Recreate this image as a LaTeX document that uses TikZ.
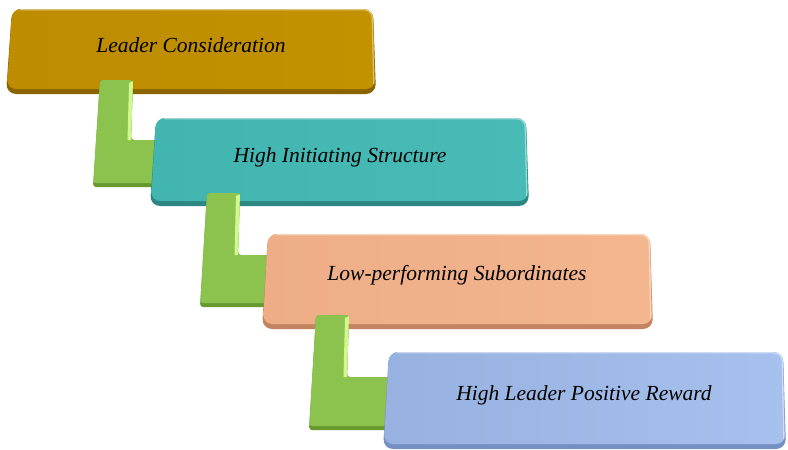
\documentclass[tikz,border=0pt]{standalone}
\usepackage{fontspec}
\setmainfont{Liberation Serif}
\definecolor{goldface}{HTML}{BD8C00}
\definecolor{goldlite}{HTML}{C29200}
\definecolor{golddark}{HTML}{8A6400}
\definecolor{tealface}{HTML}{42B5B0}
\definecolor{teallite}{HTML}{48BBB6}
\definecolor{tealdark}{HTML}{2C8783}
\definecolor{peachface}{HTML}{EEAD86}
\definecolor{peachlite}{HTML}{F3B68F}
\definecolor{peachdark}{HTML}{C48460}
\definecolor{blueface}{HTML}{97B1E0}
\definecolor{bluelite}{HTML}{A6C1EE}
\definecolor{bluedark}{HTML}{7590C2}
\definecolor{leaf}{HTML}{8BC34E}
\definecolor{leafdark}{HTML}{67992F}
\definecolor{leaflite}{HTML}{D2F78E}
\tikzset{
  label text/.style={font=\fontsize{21.5}{24}\selectfont\itshape, text=black},
}
% bevelled step box: left x, top y, right x, bottom y, face, light, dark
\newcommand\stepslab[7]{%
  \fill[#7, rounded corners=10pt] (#1+6,#2) -- (#3-3,#2) -- (#3,#4) -- (#1,#4) -- cycle;
  \shade[left color=#5, right color=#6, rounded corners=9pt]
    (#1+6,#2) -- (#3-3,#2) -- (#3-1,#4-5) -- (#1+1,#4-5) -- cycle;
  \draw[white, opacity=0.45, line width=1.2pt, rounded corners=8pt]
    (#1+14,#2+0.8) -- (#3-4,#2+0.8) -- (#3-2.2,#4-10);
}
% green bent connector: left x, top y, bar width, corner y, bottom y, right x
\newcommand\bentbar[6]{%
  \fill[leafdark, rounded corners=3pt] (#1,#2) -- (#1+#3,#2) -- (#1+#3-2,#4) -- (#6,#4) -- (#6,#5) -- (#1-7,#5) -- cycle;
  \fill[leaf, rounded corners=3pt] (#1,#2) -- (#1+#3,#2) -- (#1+#3-2,#4) -- (#6,#4) -- (#6,#5-4) -- (#1-6.7,#5-4) -- cycle;
  \fill[leaflite] (#1+#3-4,#2+3) -- (#1+#3,#2+1) -- (#1+#3-2,#4) -- (#1+#3-5.5,#4) -- cycle;
}
\begin{document}
\begin{tikzpicture}[x=1pt, y=-1pt]
  \useasboundingbox (0,0) rectangle (788,450);
  \fill[white] (0,0) rectangle (788,450);

  \stepslab{6}{9}{376}{94}{goldface}{goldlite}{golddark}
  \node[label text] (consider) at (191,45) {Leader Consideration};

  \bentbar{100}{80}{33}{140}{187}{165}
  \stepslab{150}{118}{529}{206}{tealface}{teallite}{tealdark}
  \node[label text] (structure) at (340,157) {High Initiating Structure};

  \bentbar{207}{193}{33}{255}{307}{275}
  \stepslab{262}{234}{653}{329}{peachface}{peachlite}{peachdark}
  \node[label text] (subords) at (457,275) {Low-performing Subordinates};

  \bentbar{316}{315}{33}{377}{430}{395}
  \stepslab{383}{352}{786}{449}{blueface}{bluelite}{bluedark}
  \node[label text] (reward) at (584,395) {High Leader Positive Reward};
\end{tikzpicture}
\end{document}
